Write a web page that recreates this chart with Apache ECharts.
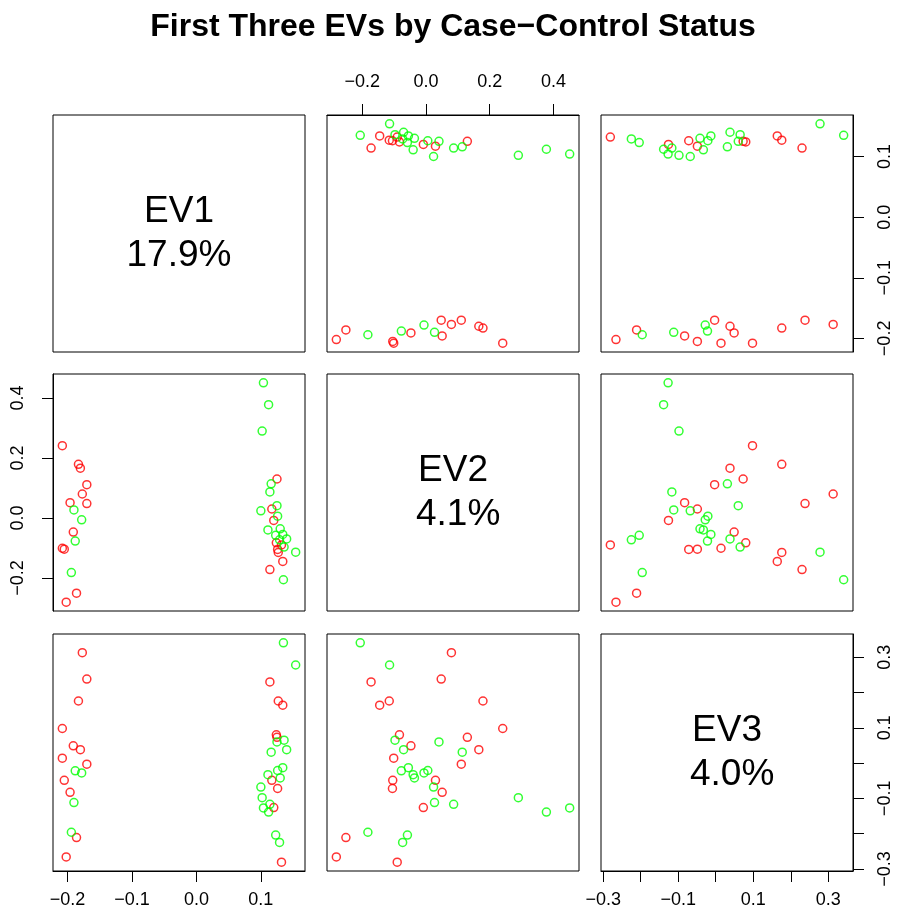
<!DOCTYPE html>
<html>
<head>
<meta charset="utf-8">
<script src="https://cdn.jsdelivr.net/npm/echarts@6/dist/echarts.min.js"></script>
<style>
html,body{margin:0;padding:0;background:#fff}
#chart{width:899px;height:917px}
</style>
</head>
<body>
<div id="chart"></div>
<script>
// eigenvectors per sample, cases (red) and controls (green)
var caseEV1 = [-0.177, -0.170, 0.114, 0.127, 0.134, -0.183, -0.208, 0.124, 0.125, -0.191, -0.180,
               -0.208, -0.170, -0.205, 0.117, 0.126, -0.196, 0.120, -0.186, -0.202, 0.132];
var caseEV2 = [0.080, 0.048, -0.172, -0.115, -0.145, 0.179, 0.241, -0.083, 0.130, -0.047, 0.166,
               -0.101, 0.111, -0.104, 0.030, -0.105, 0.051, -0.008, -0.251, -0.281, -0.090];
var caseEV3 = [0.313, 0.238, 0.230, 0.176, 0.164, 0.176, 0.098, 0.080, 0.073, 0.049, 0.038,
               0.014, -0.003, -0.049, -0.049, -0.072, -0.083, -0.126, -0.211, -0.266, -0.281];

var ctrlEV1 = [0.135, 0.154, 0.136, 0.140, 0.125, 0.116, 0.134, -0.188, 0.111, 0.130, -0.178,
               0.126, 0.100, -0.190, 0.114, 0.102, 0.112, 0.104, -0.194, 0.123, 0.129];
var ctrlEV2 = [-0.206, -0.114, -0.097, -0.070, 0.041, 0.114, -0.055, -0.077, -0.040, -0.036, -0.006,
               0.006, 0.024, 0.027, 0.087, 0.290, 0.378, 0.451, -0.182, -0.058, -0.073];
var ctrlEV3 = [0.341, 0.278, 0.065, 0.038, 0.060, 0.031, -0.013, -0.022, -0.033, -0.042, -0.028,
               -0.021, -0.068, -0.112, -0.117, -0.098, -0.139, -0.127, -0.196, -0.204, -0.225];

var varNames = ['EV1', 'EV2', 'EV3'];
var varPct = ['17.9%', ' 4.1%', ' 4.0%'];
var tickVals = [[-0.2, -0.1, 0, 0.1], [-0.2, 0, 0.2, 0.4], [-0.3, -0.2, -0.1, 0, 0.1, 0.2, 0.3]];
var labelVals = [[-0.2, -0.1, 0, 0.1], [-0.2, 0, 0.2, 0.4], [-0.3, -0.1, 0.1, 0.3]];
var mainTitle = 'First Three EVs by Case\u2212Control Status';

var caseEV = [caseEV1, caseEV2, caseEV3];
var ctrlEV = [ctrlEV1, ctrlEV2, ctrlEV3];

// panel layout
var colLeft = [53, 327, 601], rowTop = [115, 374, 634];
var panelW = 252, panelH = 237;
var FONT = 'Liberation Sans, Arial, Helvetica, sans-serif';

// R style range: data range stretched by 4%
function rng(k) {
  var all = caseEV[k].concat(ctrlEV[k]);
  var lo = Math.min.apply(null, all), hi = Math.max.apply(null, all);
  var pad = (hi - lo) * 0.04;
  return [lo - pad, hi + pad];
}
var ranges = [rng(0), rng(1), rng(2)];

function fmt(v) {
  var s = Math.abs(v).toFixed(1);
  return v < -1e-9 ? '\u2212' + s : s;
}

function makeAxis(k, gi, pos, show, margin, rotate) {
  return {
    type: 'value', gridIndex: gi, position: pos,
    min: ranges[k][0], max: ranges[k][1],
    splitLine: {show: false},
    axisLine: {show: show, onZero: false, lineStyle: {color: '#000', width: 1}},
    axisTick: {show: show, inside: false, length: 11, customValues: tickVals[k],
               lineStyle: {color: '#000', width: 1}},
    axisLabel: {show: show, customValues: labelVals[k], formatter: fmt, margin: margin,
                rotate: rotate, color: '#000', fontSize: 18, fontFamily: FONT}
  };
}

var grids = [], xAxes = [], yAxes = [], series = [], graphics = [];
for (var i = 0; i < 3; i++) {
  for (var j = 0; j < 3; j++) {
    var gi = i * 3 + j;
    grids.push({left: colLeft[j], top: rowTop[i], width: panelW, height: panelH,
                show: true, borderColor: '#000', borderWidth: 1, backgroundColor: 'transparent'});
    var topAx = (i === 0 && j === 1);
    var botAx = (i === 2 && (j === 0 || j === 2));
    var leftAx = (j === 0 && i === 1);
    var rightAx = (j === 2 && (i === 0 || i === 2));
    xAxes.push(makeAxis(j, gi, topAx ? 'top' : 'bottom', topAx || botAx, topAx ? 24 : 20, 0));
    yAxes.push(makeAxis(i, gi, rightAx ? 'right' : 'left', leftAx || rightAx, rightAx ? 23 : 26, 90));
    if (i === j) {
      graphics.push({
        type: 'text', x: colLeft[j] + panelW / 2, y: rowTop[i] + panelH / 2,
        style: {text: varNames[i] + '\n' + varPct[i], fontSize: 37, lineHeight: 44,
                fontFamily: FONT, fill: '#000', align: 'center', verticalAlign: 'middle'}
      });
      continue;
    }
    [[caseEV, '#ff0000'], [ctrlEV, '#00ff00']].forEach(function (g) {
      var src = g[0];
      series.push({
        type: 'scatter', xAxisIndex: gi, yAxisIndex: gi,
        symbol: 'circle', symbolSize: 8, silent: true,
        itemStyle: {color: 'rgba(0,0,0,0)', borderColor: g[1], borderWidth: 1.5},
        data: src[j].map(function (v, n) { return [v, src[i][n]]; })
      });
    });
  }
}

graphics.push({
  type: 'text', x: 453, y: 27,
  style: {text: mainTitle, fontSize: 32, fontWeight: 'bold', fontFamily: FONT,
          fill: '#000', align: 'center', verticalAlign: 'middle'}
});

var chart = echarts.init(document.getElementById('chart'), null, {renderer: 'canvas'});
chart.setOption({
  animation: false,
  backgroundColor: '#fff',
  grid: grids,
  xAxis: xAxes,
  yAxis: yAxes,
  series: series,
  graphic: graphics
});
</script>
</body>
</html>
